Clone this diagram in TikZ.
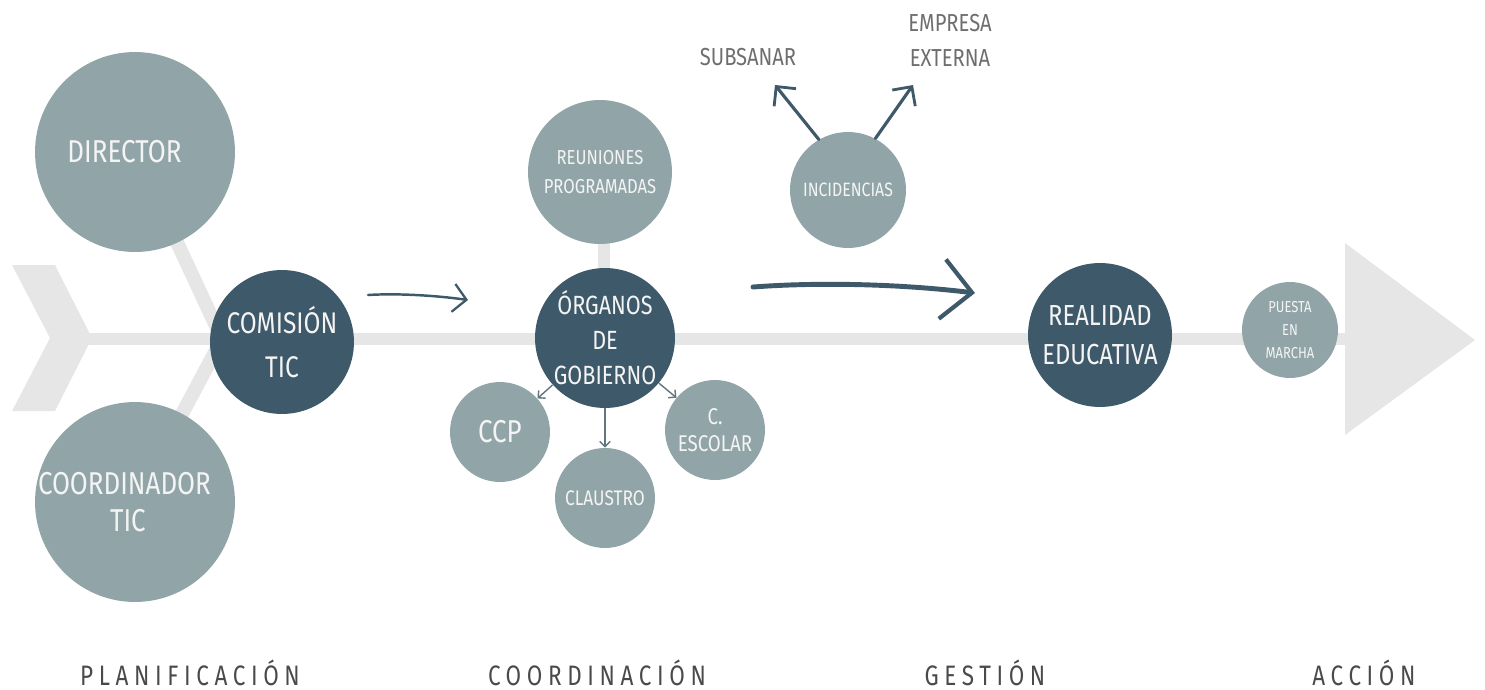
\documentclass[tikz,border=0pt]{standalone}
\usepackage{fontspec}
\setmainfont{Fira Sans}[FakeStretch=0.82]
\newfontfamily\lblfont{Fira Sans}[FakeStretch=0.8,LetterSpace=20]
\usetikzlibrary{arrows.meta}
\definecolor{lite}{HTML}{91A5A8}
\definecolor{dark}{HTML}{3E5969}
\definecolor{bone}{HTML}{E6E6E6}
\definecolor{txtc}{HTML}{F4F4F4}
\definecolor{lblc}{HTML}{4A4A4A}
\definecolor{grayt}{HTML}{6E6E6E}
\definecolor{thinc}{HTML}{5F7580}
\begin{document}
\begin{tikzpicture}[x=0.02cm,y=-0.02cm,
  bubble/.style={circle,fill=lite,text=txtc,align=center,inner sep=0pt},
  darkbubble/.style={bubble,fill=dark},
  rad/.style={minimum size=#1*0.04cm},
  fs/.style={font=\fontsize{#1}{#1}\selectfont},
  bonestyle/.style={draw=bone,line width=7.9pt},
  thinarrow/.style={draw=thinc,line width=0.8pt,-{Straight Barb[length=3pt,width=6pt]}},
  handarrow/.style={draw=dark,line cap=round},
  phase/.style={text=lblc,font=\lblfont\fontsize{16}{18}\selectfont,anchor=base},
  side/.style={text=grayt,font=\fontsize{14}{20}\selectfont,align=center}
]
\useasboundingbox (0,0) rectangle (1485,690);
% background skeleton
\fill[bone] (12,265) -- (55,265) -- (92,338) -- (55,411) -- (12,411) -- (50,338) -- cycle;
\fill[bone] (1345,243) -- (1475,340) -- (1345,435) -- cycle;
\coordinate (j) at (222,339);
\draw[bone,line width=6.8pt] (88,339) -- (1346,339);
\draw[bonestyle] (135,152) -- (j);
\draw[bonestyle] (135,502) -- (j);
\draw[bone,line width=6.8pt] (604,240) -- (604,275);
% nodes
\node[bubble,rad=100,fs=18] (dir) at (135,152) {\hspace*{-12pt}DIRECTOR};
\node[bubble,rad=100,fs=18] (coord) at (135,502) {\hspace*{-12pt}COORDINADOR\\[3pt]\hspace*{-8pt}TIC};
\node[darkbubble,rad=72,fs=17] (com) at (282,342) {COMISIÓN\\[8.5pt]TIC};
\node[bubble,rad=72,fs=11.5] (reu) at (600,172) {REUNIONES\\[4.5pt]PROGRAMADAS};
\node[darkbubble,rad=70,fs=15] (org) at (605,338) {ÓRGANOS\\[5pt]DE\\[5pt]GOBIERNO};
\node[bubble,rad=50,fs=18] (ccp) at (500,432) {CCP};
\node[bubble,rad=50,fs=12] (cla) at (605,498) {CLAUSTRO};
\node[bubble,rad=50,fs=13] (esc) at (715,430) {C.\\[2pt]ESCOLAR};
\node[bubble,rad=58,fs=11] (inc) at (848,190) {INCIDENCIAS};
\node[darkbubble,rad=72,fs=16.5] (rea) at (1100,335) {REALIDAD\\[5.5pt]EDUCATIVA};
\node[bubble,rad=48,fs=9] (pue) at (1290,330) {PUESTA\\[4pt]EN\\[4pt]MARCHA};
\node[side] (sub) at (748,57) {SUBSANAR};
\node[side] (emp) at (950,40) {EMPRESA\\EXTERNA};
% connectors
\draw[thinarrow] (org) -- (ccp);
\draw[thinarrow] (org) -- (cla);
\draw[thinarrow] (org) -- (esc);
\coordinate (a1) at (368,295);
\coordinate (a2) at (468,300);
\draw[handarrow,line width=1.4pt,-{Straight Barb[length=7.5pt,width=16pt,line width=1.3pt]}] (a1) .. controls (400,293) and (440,296) .. (a2);
\coordinate (b1) at (753,287);
\coordinate (b2) at (975,293);
\draw[handarrow,line width=2.8pt,-{Straight Barb[length=17pt,width=34pt,line width=2.4pt]}] (b1) .. controls (820,282) and (900,284) .. (b2);
\coordinate (s1) at (775,85);
\coordinate (e1) at (913,85);
\draw[handarrow,line width=1.8pt,-{Straight Barb[length=8pt,width=16pt,line width=1.6pt]}] (inc.120) -- (s1);
\draw[handarrow,line width=1.8pt,-{Straight Barb[length=8pt,width=16pt,line width=1.6pt]}] (inc.62) -- (e1);
% phase labels
\node[phase] (p1) at (190,685) {PLANIFICACIÓN};
\node[phase] (p2) at (597,685) {COORDINACIÓN};
\node[phase] (p3) at (985,685) {GESTIÓN};
\node[phase] (p4) at (1364,685) {ACCIÓN};
\end{tikzpicture}
\end{document}
